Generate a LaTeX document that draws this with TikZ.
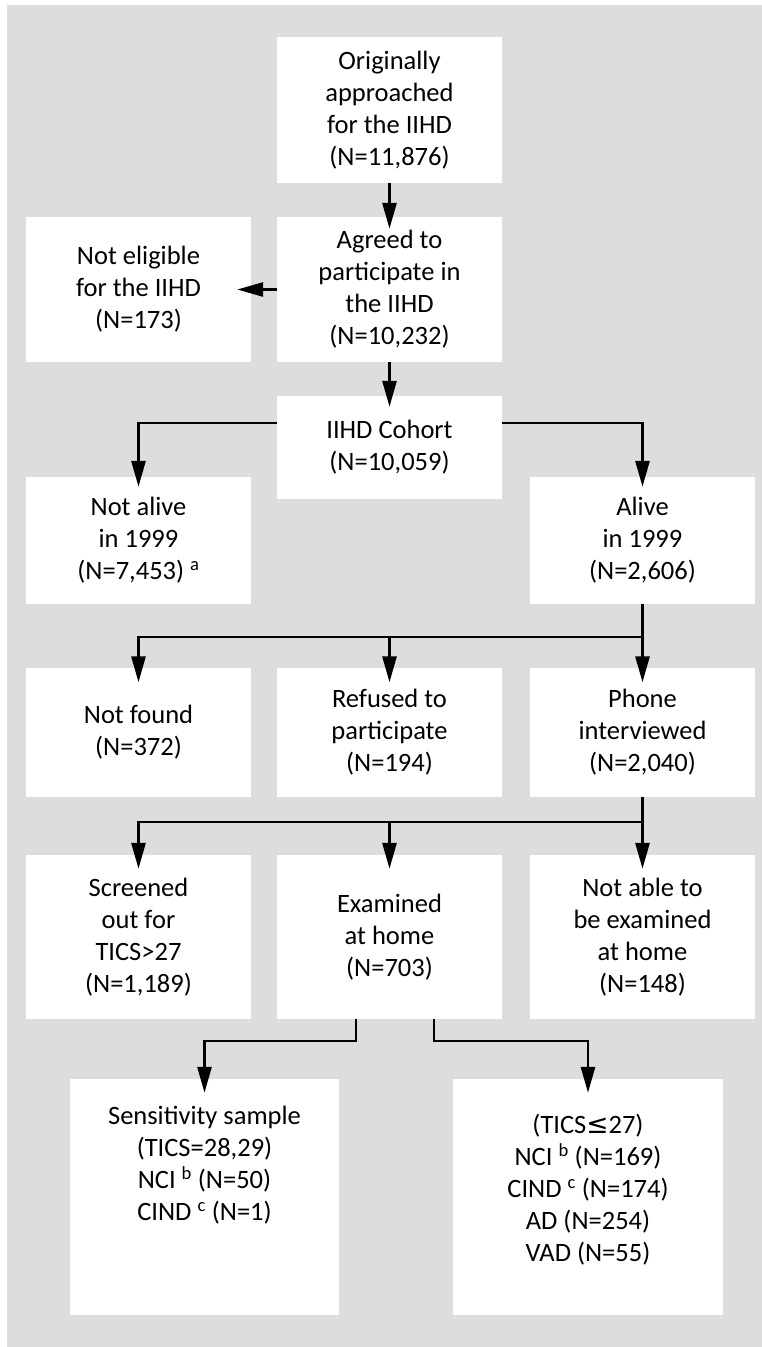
\documentclass[tikz,border=0pt]{standalone}
\usepackage{fontspec}
\setmainfont{Carlito}
\newfontfamily\symfnt{DejaVu Sans}
\usetikzlibrary{arrows.meta}
\definecolor{bggray}{RGB}{220,221,223}
\tikzset{
  box/.style={fill=white, draw=none, inner sep=0pt, align=center,
    font=\fontsize{26.5pt}{32pt}\selectfont},
  txt/.style={inner sep=0pt, align=center, font=\fontsize{26.5pt}{32pt}\selectfont},
  conn/.style={line width=2.8pt, black},
  arr/.style={conn, -{Triangle[length=26pt,width=14pt]}},
}
\begin{document}
\begin{tikzpicture}[x=1pt,y=-1pt]
\useasboundingbox (0,0) rectangle (762,1347);
\fill[bggray] (7,5) rectangle (762,1347);
% row 1-2
\node[box, minimum width=225pt, minimum height=146pt] (orig) at (389.5,110)
  {Originally\\approached\\for the IIHD\\(N=11,876)};
\node[box, minimum width=225pt, minimum height=145pt] (agreed) at (389.5,289.5)
  {Agreed to\\participate in\\the IIHD\\(N=10,232)};
\node[box, minimum width=225pt, minimum height=145pt] (noteli) at (138.5,289.5)
  {Not eligible\\for the IIHD\\(N=173)};
\node[box, minimum width=225pt, minimum height=103pt] (cohort) at (389.5,447.5)
  {IIHD Cohort\\(N=10,059)};
\node[box, minimum width=225pt, minimum height=127pt] (notalive) at (138.5,540.5)
  {Not alive\\in 1999\\(N=7,453) \textsuperscript{a}};
\node[box, minimum width=225pt, minimum height=127pt] (alive) at (642.5,540.5)
  {Alive\\in 1999\\(N=2,606)};
% row 3
\node[box, minimum width=225pt, minimum height=129pt] (notfound) at (138.5,732.5)
  {Not found\\(N=372)};
\node[box, minimum width=225pt, minimum height=129pt] (refused) at (389.5,732.5)
  {Refused to\\participate\\(N=194)};
\node[box, minimum width=225pt, minimum height=129pt] (phone) at (642.5,732.5)
  {Phone\\interviewed\\(N=2,040)};
% row 4
\node[box, minimum width=225pt, minimum height=164pt] (screened) at (138.5,937)
  {Screened\\out for\\TICS>27\\(N=1,189)};
\node[box, minimum width=225pt, minimum height=164pt] (examined) at (389.5,937)
  {Examined\\at home\\(N=703)};
\node[box, minimum width=225pt, minimum height=164pt] (notable) at (642.5,937)
  {Not able to\\be examined\\at home\\(N=148)};
% bottom
\node[box, minimum width=269pt, minimum height=236pt] (sens) at (204.5,1197) {};
\node[txt, anchor=north] (senstxt) at (204.5,1106)
  {Sensitivity sample\\(TICS=28,29)\\NCI \textsuperscript{b} (N=50)\\CIND \textsuperscript{c} (N=1)};
\node[box, minimum width=270pt, minimum height=236pt] (tics) at (588,1197) {};
\node[txt, anchor=north] (ticstxt) at (588,1114)
  {(TICS{\symfnt ≤}27)\\NCI \textsuperscript{b} (N=169)\\CIND \textsuperscript{c} (N=174)\\AD (N=254)\\VAD (N=55)};
% connectors
\draw[arr, shorten >=-12pt] (orig) -- (agreed);
\draw[arr, shorten >=-14pt] (agreed) -- (noteli);
\draw[arr, shorten >=-11pt] (agreed) -- (cohort);
\draw[arr, shorten >=-10pt] ([yshift=24.5pt]cohort.west) -| (notalive.north);
\draw[arr, shorten >=-10pt] ([yshift=24.5pt]cohort.east) -| (alive.north);
\coordinate (j1) at (642.5,637);
\draw[arr, shorten >=-14.5pt] (alive) -- (phone);
\draw[arr, shorten >=-14.5pt] (j1) -| (notfound.north);
\draw[arr, shorten >=-14.5pt] (j1 -| refused) -- (refused.north);
\coordinate (j2) at (642.5,822);
\draw[arr, shorten >=-14pt] (phone) -- (notable);
\draw[arr, shorten >=-14pt] (j2) -| (screened.north);
\draw[arr, shorten >=-14pt] (j2 -| examined) -- (examined.north);
\coordinate (e1) at (356,1041);
\coordinate (e2) at (434,1041);
\draw[arr, shorten >=-14pt] (e1 |- examined.south) -- (e1) -| (sens.north);
\draw[arr, shorten >=-14pt] (e2 |- examined.south) -- (e2) -| (tics.north);
\end{tikzpicture}
\end{document}
